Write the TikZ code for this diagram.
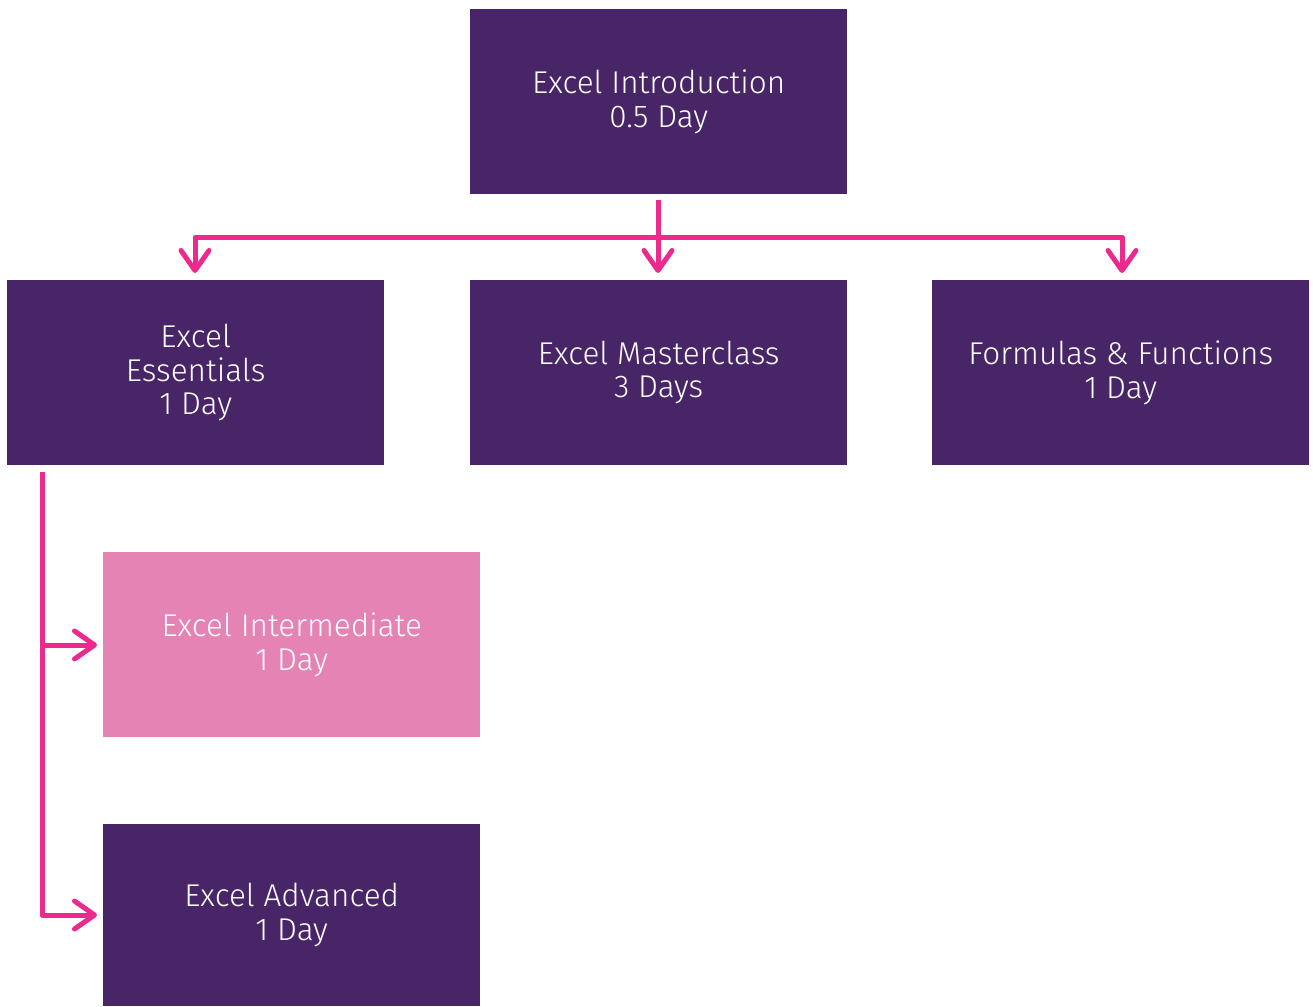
\documentclass[tikz,border=0pt]{standalone}
\usepackage{fontspec}
\setmainfont{Fira Sans Light}
\usetikzlibrary{arrows.meta}
\definecolor{dpurple}{HTML}{482566}
\definecolor{lpink}{HTML}{E483B4}
\definecolor{hotpink}{HTML}{EC2A8E}
\begin{document}
\begin{tikzpicture}[x=1pt,y=-1pt,
  boxstyle/.style={fill=#1, text=white, minimum width=377pt, minimum height=185pt,
    inner sep=0pt, align=center, font=\fontsize{31.5}{33.5}\selectfont, anchor=north west},
  boxstyle/.default=dpurple,
  link/.style={draw=hotpink, line width=5pt},
  linkarrow/.style={link, line join=round, -{Straight Barb[length=20pt,width=28pt,line width=5pt,round]}}]
\useasboundingbox (0,0) rectangle (1313,1006);
\node[boxstyle] (intro) at (470,9) {Excel Introduction\\0.5 Day};
\node[boxstyle] (ess) at (7,280) {Excel\\Essentials\\1 Day};
\node[boxstyle] (mast) at (470,280) {Excel Masterclass\\3 Days};
\node[boxstyle] (form) at (932,280) {Formulas \& Functions\\1 Day};
\node[boxstyle=lpink] (inter) at (103,552) {Excel Intermediate\\1 Day};
\node[boxstyle, minimum height=182pt] (adv) at (103,824) {Excel Advanced\\1 Day};
% connectors
\coordinate (s1) at (658,200);
\coordinate (j1) at (658,237);
\coordinate (l1) at (195,237);
\coordinate (r1) at (1122,237);
\coordinate (e1) at (195,273);
\coordinate (m1) at (658,273);
\coordinate (f1) at (1122,273);
\draw[link] (s1) -- (j1);
\draw[linkarrow] (j1) -- (l1) -- (e1);
\draw[linkarrow] (j1) -- (r1) -- (f1);
\draw[linkarrow] (j1) -- (m1);
\coordinate (s2) at (42,472);
\coordinate (b1) at (42,645);
\coordinate (t1) at (97,645);
\coordinate (t2) at (97,915);
\draw[linkarrow] (s2) |- (t2);
\draw[linkarrow] (b1) -- (t1);
\end{tikzpicture}
\end{document}
